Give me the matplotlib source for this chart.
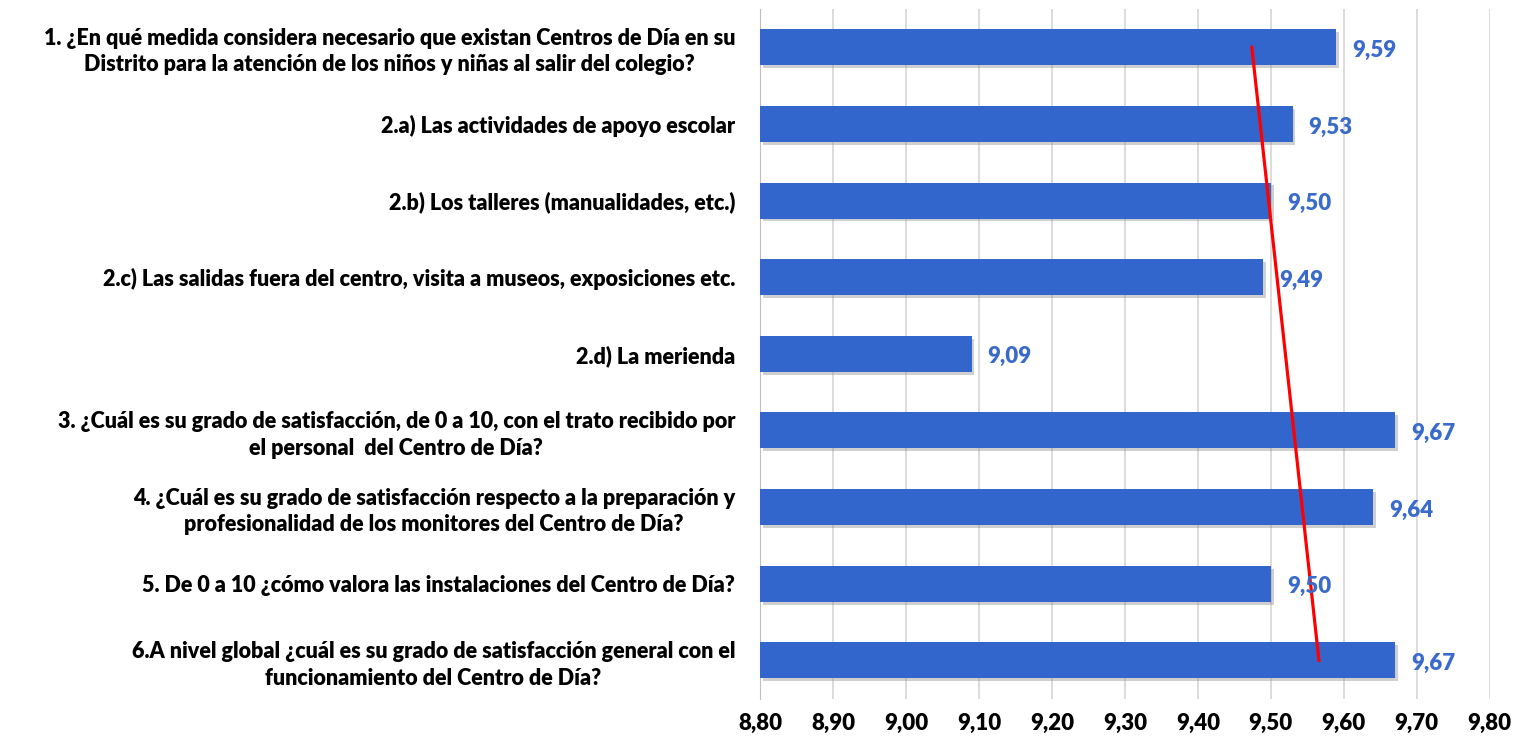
import matplotlib
matplotlib.use("Agg")
import matplotlib.pyplot as plt
import matplotlib.patheffects as pe
import numpy as np
from matplotlib import font_manager

# pick a narrow font close to Calibri if there is one
names = {f.name for f in font_manager.fontManager.ttflist}
family = "Liberation Sans Narrow" if "Liberation Sans Narrow" in names else "Lato"
plt.rcParams['font.family'] = [family, 'DejaVu Sans']
W = "heavy"

# data
preguntas = [
    "1. ¿En qué medida considera necesario que existan Centros de Día en su\nDistrito para la atención de los niños y niñas al salir del colegio?",
    "2.a) Las actividades de apoyo escolar",
    "2.b) Los talleres (manualidades, etc.)",
    "2.c) Las salidas fuera del centro, visita a museos, exposiciones etc.",
    "2.d) La merienda",
    "3. ¿Cuál es su grado de satisfacción, de 0 a 10, con el trato recibido por\nel personal  del Centro de Día?",
    "4. ¿Cuál es su grado de satisfacción respecto a la preparación y\nprofesionalidad de los monitores del Centro de Día?",
    "5. De 0 a 10 ¿cómo valora las instalaciones del Centro de Día?",
    "6.A nivel global ¿cuál es su grado de satisfacción general con el\nfuncionamiento del Centro de Día?",
]
valores = [9.59, 9.53, 9.50, 9.49, 9.09, 9.67, 9.64, 9.50, 9.67]
ticks_x = [8.8, 8.9, 9.0, 9.1, 9.2, 9.3, 9.4, 9.5, 9.6, 9.7, 9.8]

fig = plt.figure(figsize=(15.17, 7.41), dpi=100)
ax = fig.add_axes([0.501, 0.057, 0.481, 0.931])

pos = np.arange(len(valores))
bars = ax.barh(pos, np.array(valores) - 8.8, left=8.8, height=0.47, color="#3366CC", zorder=3)
for b in bars:
    b.set_path_effects([pe.SimplePatchShadow(offset=(2, -2), shadow_rgbFace="#888888", alpha=0.4), pe.Normal()])

for p, v in zip(pos, valores):
    ax.text(v + 0.022, p + 0.04, f"{v:.2f}".replace(".", ","), va="center", ha="left",
            color="#3A6BCB", fontsize=16, fontweight=W, zorder=5)

# linear trend line (like Excel)
idx = pos + 1
m, b = np.polyfit(idx, valores, 1)
ax.plot(m * idx[[0, -1]] + b, pos[[0, -1]], color="#FF0000", lw=2.3, zorder=4)

ax.set_xlim(8.8, 9.8)
ax.set_ylim(len(valores) - 0.5, -0.5)
ax.set_xticks(ticks_x)
ax.set_xticklabels([f"{t:.2f}".replace(".", ",") for t in ticks_x],
                   fontsize=16, fontweight=W)
ax.set_yticks(pos)
ax.set_yticklabels(preguntas, fontsize=15.5, fontweight=W,
                   multialignment="center", linespacing=1.3)
ax.tick_params(axis="y", length=0, pad=18)
ax.tick_params(axis="x", length=0, pad=10)
ax.grid(axis="x", color="#D9D9D9", lw=1.3, zorder=0)
for s in ["top", "right", "bottom"]:
    ax.spines[s].set_visible(False)
ax.spines["left"].set_color("#BFBFBF")

fig.savefig("out.png", dpi=100)
